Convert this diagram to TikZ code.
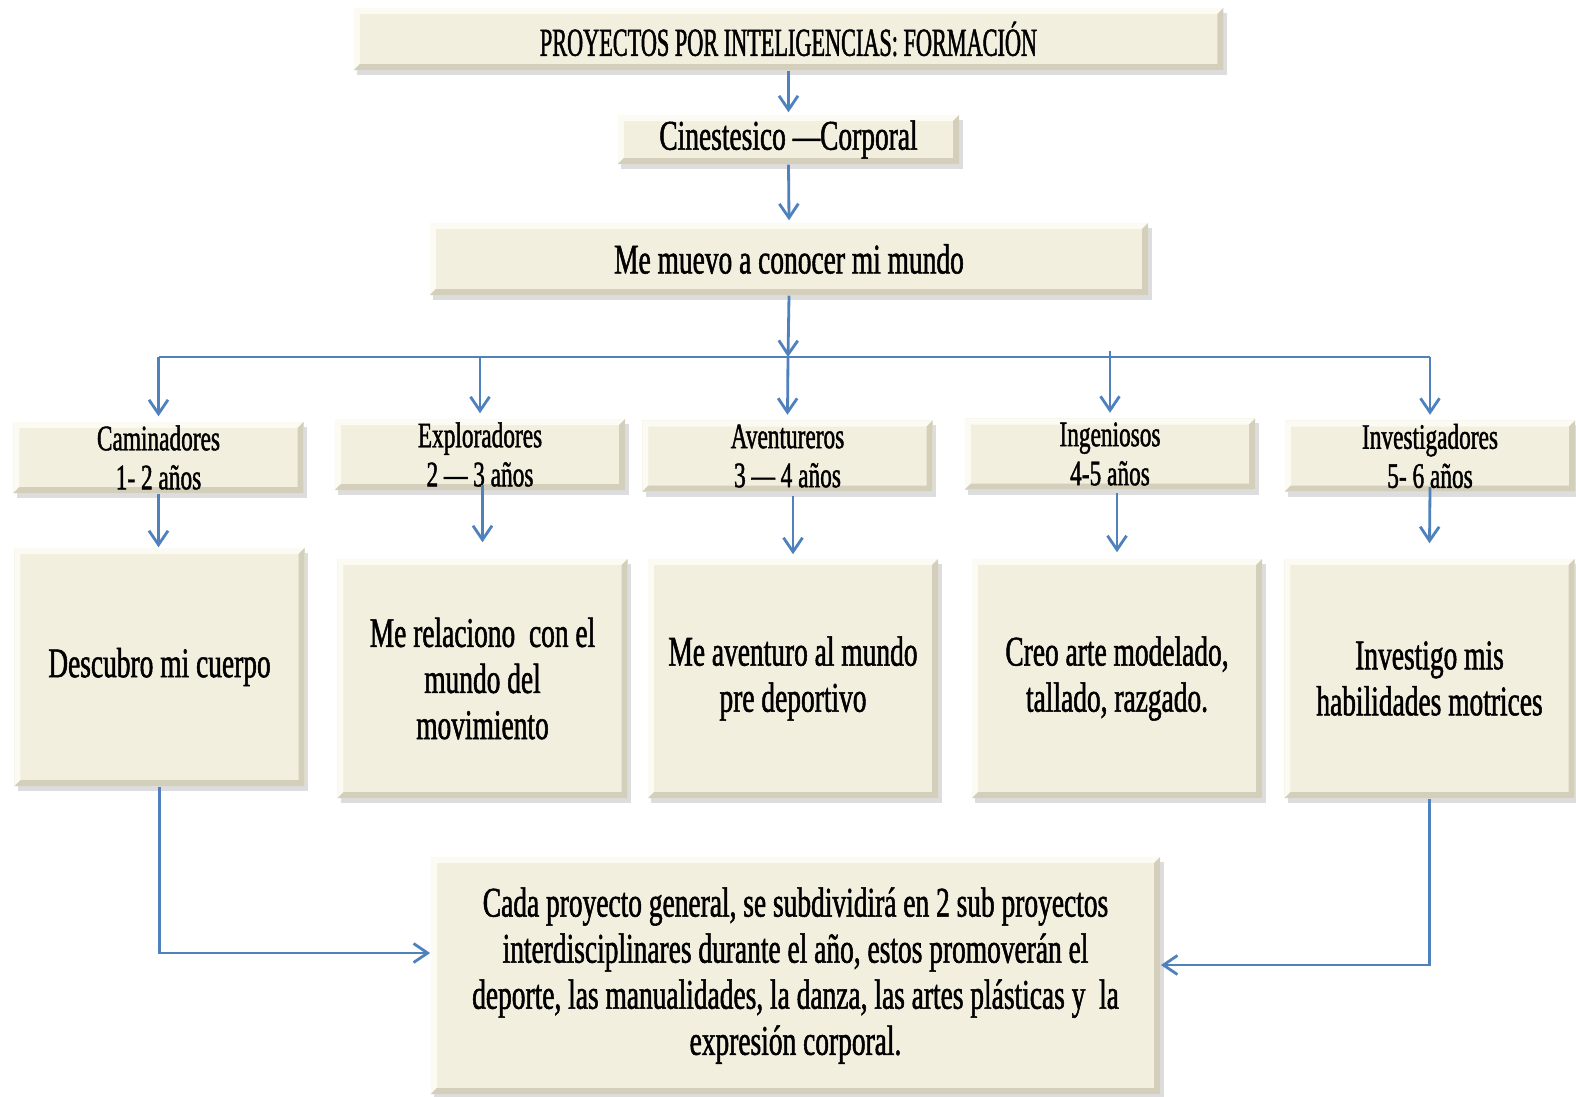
\documentclass[tikz,border=0pt]{standalone}
\usepackage{fontspec}
\setmainfont{Liberation Serif}[FakeStretch=0.65,FakeBold=1.2]
\newfontfamily\titlefont{Liberation Serif}[FakeStretch=0.56,FakeBold=1.2]
\usetikzlibrary{arrows.meta,shadows}
\definecolor{crema}{HTML}{F2EFDE}
\definecolor{claro}{HTML}{FBFAF3}
\definecolor{oscuro}{HTML}{D3CFBA}
\definecolor{azul}{HTML}{4F81BD}
\tikzset{
  caja/.style={fill=crema, inner sep=0pt, align=center,
    drop shadow={shadow xshift=0.35mm, shadow yshift=-0.5mm, fill=black!60, opacity=0.22},
    path picture={
      \fill[claro] (path picture bounding box.south west) -- (path picture bounding box.north west)
        -- (path picture bounding box.north east) -- ([xshift=-0.6mm,yshift=-0.6mm]path picture bounding box.north east)
        -| ([xshift=0.6mm,yshift=0.6mm]path picture bounding box.south west) -- cycle;
      \fill[oscuro] (path picture bounding box.south west) -- (path picture bounding box.south east)
        -- (path picture bounding box.north east) -- ([xshift=-0.6mm,yshift=-0.6mm]path picture bounding box.north east)
        |- ([xshift=0.6mm,yshift=0.6mm]path picture bounding box.south west) -- cycle;
    }},
  titulo/.style={caja, font=\titlefont\fontsize{11.3pt}{12pt}\selectfont},
  texto/.style={caja, font=\fontsize{12pt}{13.1pt}\selectfont},
  edad/.style={caja, minimum width=2.9cm, minimum height=0.71cm, font=\fontsize{10.2pt}{11.1pt}\selectfont},
  proyecto/.style={texto, minimum width=2.9cm, minimum height=2.39cm},
  flecha/.style={draw=azul, line width=0.8pt, -{Straight Barb[length=1.4mm,width=1.9mm]}},
  linea/.style={draw=azul, line width=0.8pt}
}
\begin{document}
\begin{tikzpicture}[x=0.01cm,y=-0.01cm]
\useasboundingbox (0,0) rectangle (1576,1096);
\node[titulo, minimum width=8.69cm, minimum height=0.62cm] (tit) at (788.5,39) {PROYECTOS POR INTELIGENCIAS: FORMACIÓN};
\node[texto, minimum width=3.41cm, minimum height=0.49cm] (cin) at (788.5,139.5) {Cinestesico ---Corporal};
\node[texto, minimum width=7.18cm, minimum height=0.72cm] (muevo) at (789,259) {Me muevo a conocer mi mundo};
\coordinate (bus) at (788,357);

\node[edad] (cam) at (158.5,457.5) {Caminadores\\1- 2 años};
\node[edad] (exp) at (480,454.5) {Exploradores\\2 --- 3 años};
\node[edad] (ave) at (787.5,456) {Aventureros\\3 --- 4 años};
\node[edad] (ing) at (1110,454) {Ingeniosos\\4-5 años};
\node[edad] (inv) at (1430,456) {Investigadores\\5- 6 años};

\node[proyecto, minimum height=2.38cm] (desc) at (159.5,667) {Descubro mi cuerpo};
\node[proyecto] (rel) at (482.5,678.5) {Me relaciono\ \ con el\\mundo del\\movimiento};
\node[proyecto] (aven) at (793,678.5) {Me aventuro al mundo\\pre deportivo};
\node[proyecto] (creo) at (1117,678.5) {Creo arte modelado,\\tallado, razgado.};
\node[proyecto] (invest) at (1429.5,678.5) {Investigo mis\\habilidades motrices};

\node[texto, minimum width=7.29cm, minimum height=2.37cm] (cada) at (795.5,975.5) {Cada proyecto general, se subdividirá en 2 sub proyectos\\interdisciplinares durante el año, estos promoverán el\\deporte, las manualidades, la danza, las artes plásticas y\ \ la\\expresión corporal.};

\draw[flecha] (tit.south) -- ([yshift=0.02cm]cin.north);
\draw[flecha] (cin.south) -- ([yshift=0.02cm]muevo.north);
\draw[flecha] (muevo.south) -- (bus);
\draw[linea] (cam.north |- bus) -- (inv.north |- bus);
\draw[flecha] (cam.north |- bus) -- ([yshift=0.05cm]cam.north);
\draw[flecha] (exp.north |- bus) -- ([yshift=0.05cm]exp.north);
\draw[flecha] (bus) -- ([yshift=0.05cm]ave.north);
\draw[flecha] (ing.north |- bus) ++(0,-6) -- ([yshift=0.05cm]ing.north);
\draw[flecha] (inv.north |- bus) -- ([yshift=0.05cm]inv.north);

\draw[flecha] (cam.south) -- (cam.south |- desc.north);
\draw[flecha] (rel.north |- exp.south) ++(0,-6) -- ([yshift=0.16cm]rel.north);
\draw[flecha] (aven.north |- ave.south) ++(0,4) -- ([yshift=0.04cm]aven.north);
\draw[flecha] (creo.north |- ing.south) ++(0,3) -- ([yshift=0.06cm]creo.north);
\draw[flecha] (inv.south) ++(0,-5) -- ([yshift=0.15cm]invest.north);

\draw[flecha] (desc.south) |- ([yshift=0.225cm]cada.west);
\draw[flecha] (invest.south) |- ([yshift=0.105cm]cada.east);
\end{tikzpicture}
\end{document}
